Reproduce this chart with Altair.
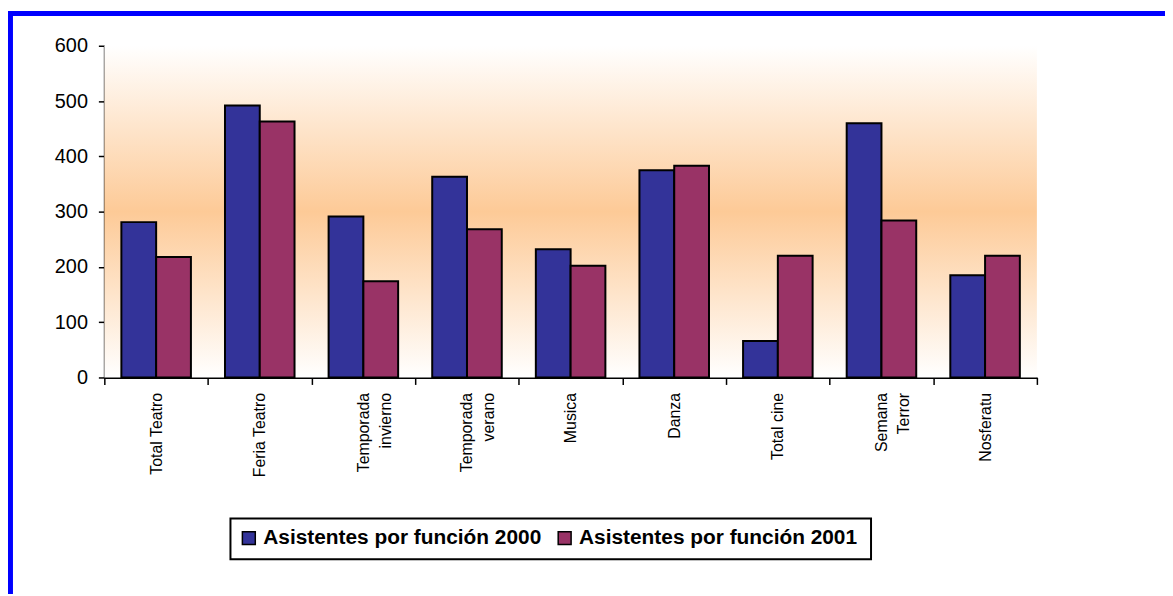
import altair as alt
import pandas as pd

categories = ["Total Teatro", "Feria Teatro", "Temporada|invierno", "Temporada|verano",
              "Musica", "Danza", "Total cine", "Semana|Terror", "Nosferatu"]
series = ["Asistentes por función 2000", "Asistentes por función 2001"]
v2000 = [281, 492, 291, 363, 232, 375, 66, 460, 185]
v2001 = [218, 463, 174, 268, 202, 383, 220, 284, 220]
colors = ["#333399", "#993366"]
y_ticks = [0, 100, 200, 300, 400, 500, 600]

rows = []
for c, a, b in zip(categories, v2000, v2001):
    rows.append({"cat": c, "serie": series[0], "val": a})
    rows.append({"cat": c, "serie": series[1], "val": b})
df = pd.DataFrame(rows)

W, H = 939, 334
FONT = "Liberation Sans"
CW, CH = 1165, 586

# gradient background of plot area
bg = alt.Chart(alt.Data(values=[{"k": 1}])).mark_rect(
    color=alt.Gradient(
        gradient="linear", x1=0, y1=0, x2=0, y2=1,
        stops=[alt.GradientStop(offset=0, color="#ffffff"),
               alt.GradientStop(offset=0.5, color="#fdca97"),
               alt.GradientStop(offset=1, color="#ffffff")])
).encode(x=alt.value(0), x2=alt.value(W), y=alt.value(0), y2=alt.value(H))

# blue outer frame
frame = alt.Chart(alt.Data(values=[{"k": 1}])).mark_rect(
    filled=False, stroke="#0000ff", strokeWidth=5
).encode(x=alt.value(-94.5), x2=alt.value(1500), y=alt.value(-32.5), y2=alt.value(1200))

# legend box
legbox = alt.Chart(alt.Data(values=[{"k": 1}])).mark_rect(
    fill="white", stroke="black", strokeWidth=2
).encode(x=alt.value(127), x2=alt.value(772), y=alt.value(476), y2=alt.value(517))

bars = alt.Chart(df).mark_bar(stroke="black", strokeWidth=2).encode(
    x=alt.X("cat:N", sort=categories,
            scale=alt.Scale(paddingInner=0, paddingOuter=0),
            axis=alt.Axis(title=None, tickBand="extent", labelAngle=270,
                          labelAlign="right", labelBaseline="middle",
                          labelExpr="split(datum.label, '|')",
                          labelLineHeight=22, labelFont=FONT, labelFontSize=16,
                          labelColor="black", labelPadding=8, labelLimit=300,
                          domainColor="black", domainWidth=2,
                          tickColor="black", tickWidth=1.5, tickSize=7)),
    xOffset=alt.XOffset("serie:N", sort=series,
                        scale=alt.Scale(paddingInner=0, paddingOuter=0.49)),
    y=alt.Y("val:Q", scale=alt.Scale(domain=[0, 600], nice=False),
            axis=alt.Axis(title=None, values=y_ticks, grid=False,
                          labelFont=FONT, labelFontSize=20, labelColor="black",
                          labelPadding=11, domainColor="black", domainWidth=2,
                          tickColor="black", tickWidth=1.5, tickSize=6)),
    color=alt.Color("serie:N", sort=series,
                    scale=alt.Scale(domain=series, range=colors),
                    legend=alt.Legend(orient="none", legendX=135, legendY=485,
                                      direction="horizontal", title=None,
                                      padding=0, symbolType="square", symbolSize=169,
                                      symbolStrokeColor="black", symbolStrokeWidth=1.5,
                                      labelFont=FONT, labelFontSize=21,
                                      labelFontWeight="bold", labelColor="black",
                                      labelLimit=500, labelOffset=4, columnPadding=12)),
)

chart = alt.layer(frame, bg, legbox, bars).properties(
    width=W, height=H,
    autosize=alt.AutoSizeParams(type="none"),
    padding={"left": 97, "top": 36, "right": CW - 97 - W, "bottom": CH - 36 - H},
    background="white",
).configure_view(strokeWidth=0)

chart.save("out.html", embed_options={"renderer": "svg", "actions": False})
